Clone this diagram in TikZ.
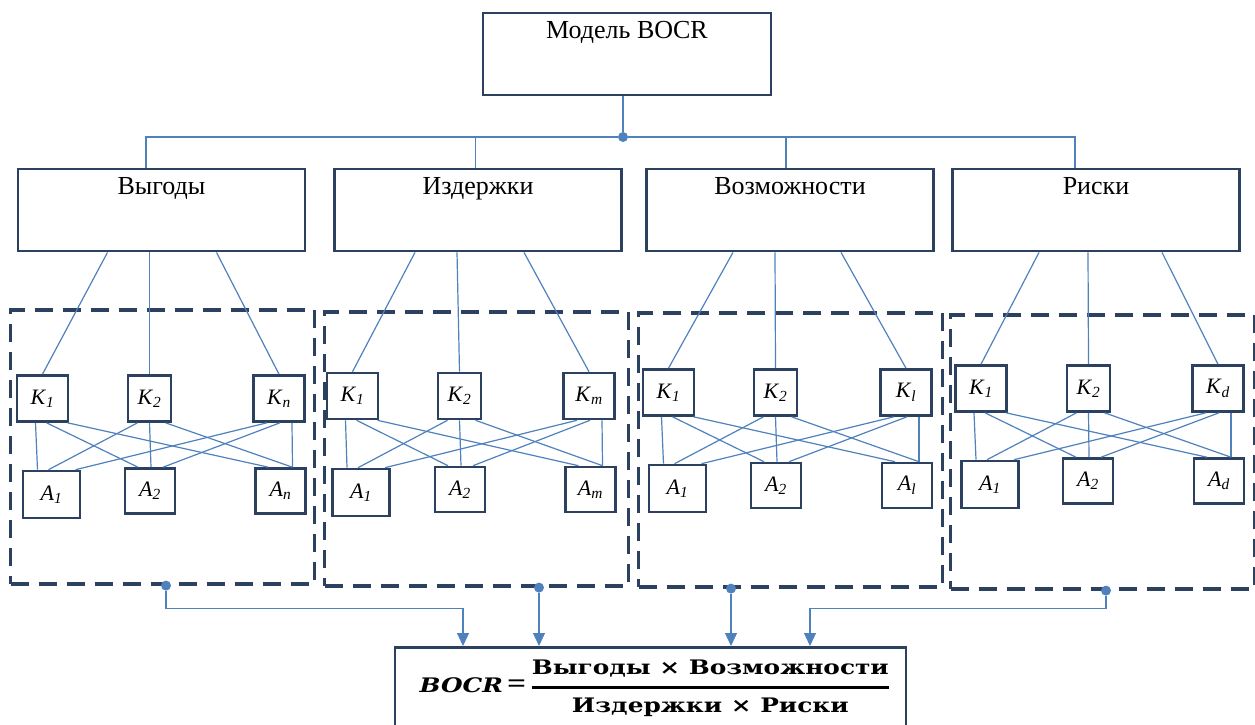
\documentclass[tikz,border=0pt]{standalone}
\usepackage{amsmath}
\usepackage{graphicx}
\usepackage{fontspec}
\setmainfont{Liberation Serif}
\newfontfamily\formfont{DejaVu Serif}
\definecolor{frameNavy}{RGB}{44,64,96}
\definecolor{linkBlue}{RGB}{79,129,189}
\usetikzlibrary{arrows.meta, positioning}
\newcommand{\subl}[2]{\textit{#1}\textsubscript{\textit{#2}}}

\begin{document}
\begin{tikzpicture}[x=1pt, y=-1pt,
  topbox/.style={rectangle, draw=frameNavy, line width=2.8pt,
                 minimum width=288pt, minimum height=82pt},
  catbox/.style={rectangle, draw=frameNavy, line width=2.8pt,
                 minimum width=287pt, minimum height=82pt},
  title/.style={label={[anchor=north, inner sep=0pt, yshift=-9.5pt,
                        font=\fontsize{26}{30}\selectfont]north:#1}},
  crit/.style={rectangle, draw=frameNavy, line width=2.6pt, inner sep=0pt,
               minimum width=51pt, minimum height=46pt,
               font=\fontsize{22}{26}\selectfont},
  alt/.style={rectangle, draw=frameNavy, line width=2.6pt, inner sep=0pt,
              minimum width=50pt, minimum height=45pt,
              font=\fontsize{22}{26}\selectfont},
  group/.style={rectangle, draw=frameNavy, line width=3.2pt,
                dash pattern=on 18pt off 10pt,
                minimum width=304pt, minimum height=274pt},
  link/.style={draw=linkBlue, line width=1.2pt},
  feed/.style={link, -{Triangle[length=13pt, width=12pt]}},
  hubdot/.style={circle, fill=linkBlue, inner sep=0pt, minimum size=10pt},
]
  \useasboundingbox (0,0) rectangle (1255,725);

  % model and its four parts
  \node[topbox, title={Модель BOCR}] (model) at (627,54) {};
  \node[catbox, title={Выгоды}] (ben) at (161.5,210) {};
  \node[catbox, title={Издержки}] (cst) at (478,210) {};
  \node[catbox, title={Возможности}] (opp) at (790,210) {};
  \node[catbox, title={Риски}] (rsk) at (1096,210) {};

  \node[hubdot] (hub) at (623,137) {};
  \draw[link] (hub |- model.south) -- (hub);
  \draw[link] (hub) -| ([xshift=-15.5pt]ben.north);
  \draw[link] (hub) -| ([xshift=-2.5pt]cst.north);
  \draw[link] (hub) -| ([xshift=-4pt]opp.north);
  \draw[link] (hub) -| ([xshift=-21pt]rsk.north);

  % dashed groups
  \node[group] (g1) at (162.5,447) {};
  \node[group] (g2) at (476.5,449) {};
  \node[group] (g3) at (790.5,450) {};
  \node[group] (g4) at (1102.5,452) {};

  % Выгоды
  \node[crit] (b-k1) at (42.5,398.5) {\subl{K}{1}};
  \node[crit, minimum width=43pt] (b-k2) at (149.5,398.5) {\subl{K}{2}};
  \node[crit] (b-k3) at (279,398.5) {\subl{K}{n}};
  \node[alt, minimum width=57pt, minimum height=47pt] (b-a1) at (51.5,494.5) {\subl{A}{1}};
  \node[alt] (b-a2) at (150,491) {\subl{A}{2}};
  \node[alt] (b-a3) at (280.5,491) {\subl{A}{n}};

  % Издержки
  \node[crit] (c-k1) at (352.5,396) {\subl{K}{1}};
  \node[crit, minimum width=43pt] (c-k2) at (459.5,396) {\subl{K}{2}};
  \node[crit] (c-k3) at (589,396) {\subl{K}{m}};
  \node[alt, minimum width=57pt, minimum height=47pt] (c-a1) at (361,492.5) {\subl{A}{1}};
  \node[alt] (c-a2) at (460,489.5) {\subl{A}{2}};
  \node[alt] (c-a3) at (590.5,489.5) {\subl{A}{m}};

  % Возможности
  \node[crit] (o-k1) at (668.5,392.5) {\subl{K}{1}};
  \node[crit, minimum width=43pt] (o-k2) at (775.5,392.5) {\subl{K}{2}};
  \node[crit] (o-k3) at (906,392.5) {\subl{K}{l}};
  \node[alt, minimum width=57pt, minimum height=47pt] (o-a1) at (677.5,488.5) {\subl{A}{1}};
  \node[alt] (o-a2) at (776,485.5) {\subl{A}{2}};
  \node[alt] (o-a3) at (907,485.5) {\subl{A}{l}};

  % Риски
  \node[crit] (r-k1) at (981,388.5) {\subl{K}{1}};
  \node[crit, minimum width=43pt] (r-k2) at (1088.5,388.5) {\subl{K}{2}};
  \node[crit] (r-k3) at (1218,388.5) {\subl{K}{d}};
  \node[alt, minimum width=57pt, minimum height=47pt] (r-a1) at (990,484.5) {\subl{A}{1}};
  \node[alt] (r-a2) at (1088,481) {\subl{A}{2}};
  \node[alt] (r-a3) at (1219,481) {\subl{A}{d}};

  \foreach \c/\g/\p/\q/\r in {ben/b/-54/-12/55, cst/c/-63/-21/46,
                              opp/o/-57/-15/51, rsk/r/-57/-8/66} {
    \draw[link] ([xshift=\p pt]\c.south) -- (\g-k1.north);
    \draw[link] ([xshift=\q pt]\c.south) -- (\g-k2.north);
    \draw[link] ([xshift=\r pt]\c.south) -- (\g-k3.north);
  }
  \foreach \g in {b,c,o,r}
    \foreach \i/\j/\kx/\ax in {1/1/-7/-14, 1/2/4/-12, 1/3/25/-12,
                               2/1/-12/-3, 2/2/0/1, 2/3/16/12,
                               3/1/-12/24, 3/2/1/13, 3/3/13/12}
      \draw[link] ([xshift=\kx pt]\g-k\i.south) -- ([xshift=\ax pt]\g-a\j.north);

  % formula
  \node[rectangle, draw=frameNavy, line width=2.8pt, anchor=north,
        minimum width=511pt, minimum height=120pt] (formula) at (650.5,646) {};
  \node[font=\fontsize{20}{24}\selectfont] (bocr) at (655,688)
    {\scalebox{1.24}[1]{{\formfont\bfseries\itshape BOCR}\,{\fontsize{27}{27}\selectfont\textbf{=}}\,%
     $\genfrac{}{}{3pt}{0}{\text{\formfont\bfseries Выгоды × Возможности}}
                           {\raisebox{-4pt}{\formfont\bfseries Издержки × Риски}}$}};

  \node[hubdot] (dot1) at ([xshift=3.5pt]g1.south) {};
  \node[hubdot] (dot2) at ([xshift=62.5pt]g2.south) {};
  \node[hubdot] (dot3) at ([xshift=-59.5pt]g3.south) {};
  \node[hubdot] (dot4) at ([xshift=3.5pt]g4.south) {};

  \draw[feed] (dot1) -- ++(0,23) -| ([xshift=-187.5pt]formula.north);
  \draw[feed] (dot2) -- (dot2 |- formula.north);
  \draw[feed] (dot3) -- (dot3 |- formula.north);
  \draw[feed] (dot4) -- ++(0,18) -| ([xshift=159.5pt]formula.north);
\end{tikzpicture}
\end{document}
